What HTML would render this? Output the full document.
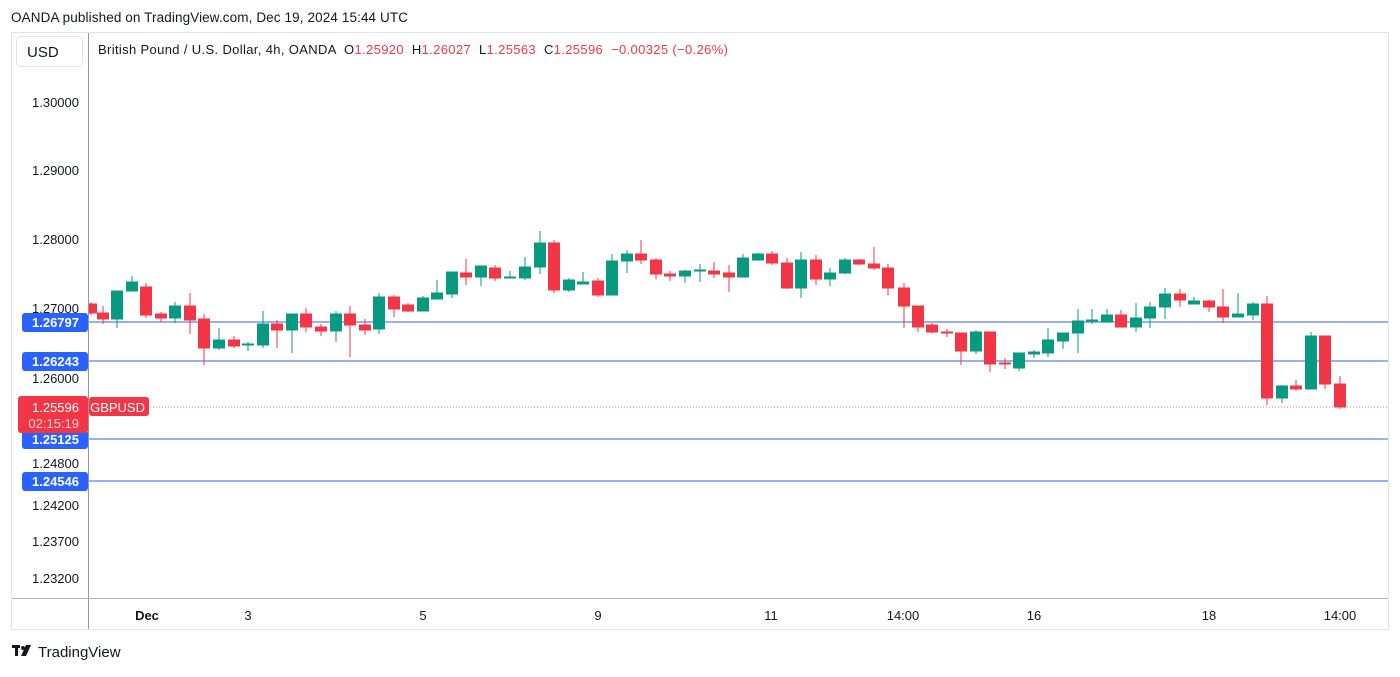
<!DOCTYPE html>
<html><head><meta charset="utf-8"><style>
body{margin:0;background:#fff;width:1400px;height:672px;overflow:hidden;font-family:"Liberation Sans","DejaVu Sans",sans-serif}
</style></head><body>
<svg width="1400" height="672" xmlns="http://www.w3.org/2000/svg" font-family="Liberation Sans, DejaVu Sans, sans-serif">
<rect width="1400" height="672" fill="#fff"/>
<text x="11" y="22" font-size="13.5" fill="#131722" textLength="397" lengthAdjust="spacing">OANDA published on TradingView.com, Dec 19, 2024 15:44 UTC</text>
<rect x="11.5" y="32.5" width="1377" height="597" fill="#fff" stroke="#e0e3eb"/>
<line x1="88.5" y1="33" x2="88.5" y2="629" stroke="#9598a1"/>
<line x1="12" y1="598.5" x2="1388" y2="598.5" stroke="#b2b5be"/>
<rect x="16.5" y="36.5" width="66" height="30" rx="4" fill="#fff" stroke="#e0e3eb"/>
<text x="27" y="57" font-size="15" fill="#131722">USD</text>
<text x="98" y="54" font-size="13" fill="#131722" style="white-space:pre" xml:space="preserve" textLength="630" lengthAdjust="spacing">British Pound / U.S. Dollar, 4h, OANDA  O<tspan fill="#f23645">1.25920</tspan>  H<tspan fill="#f23645">1.26027</tspan>  L<tspan fill="#f23645">1.25563</tspan>  C<tspan fill="#f23645">1.25596</tspan>  <tspan fill="#f23645">−0.00325 (−0.26%)</tspan></text>
<g font-size="13" fill="#131722" text-anchor="end">
<text x="79" y="107">1.30000</text><text x="79" y="175">1.29000</text><text x="79" y="244">1.28000</text><text x="79" y="313">1.27000</text><text x="79" y="383">1.26000</text><text x="79" y="468">1.24800</text><text x="79" y="510">1.24200</text><text x="79" y="546">1.23700</text><text x="79" y="583">1.23200</text>
</g>
<g stroke="#5b7ff0" stroke-width="1.3">
<line x1="89" y1="322" x2="1388" y2="322"/><line x1="89" y1="361" x2="1388" y2="361"/><line x1="89" y1="439" x2="1388" y2="439"/><line x1="89" y1="481" x2="1388" y2="481"/>
</g>
<line x1="150" y1="407" x2="1388" y2="407" stroke="#f23645" stroke-dasharray="1,2" opacity="0.7"/>
<svg x="89" y="33" width="1299" height="565" viewBox="89 33 1299 565">
<g stroke="#089981" fill="#089981">
<line x1="117" y1="291" x2="117" y2="328"/><rect x="111.5" y="291" width="11" height="28"/>
<line x1="132" y1="276" x2="132" y2="291"/><rect x="126.5" y="282" width="11" height="9"/>
<line x1="175" y1="302" x2="175" y2="323"/><rect x="169.5" y="306" width="11" height="12"/>
<line x1="219" y1="328" x2="219" y2="350"/><rect x="213.5" y="340" width="11" height="8"/>
<line x1="248" y1="342" x2="248" y2="351"/><rect x="242.5" y="344" width="11" height="1"/>
<line x1="263" y1="311" x2="263" y2="348"/><rect x="257.5" y="324" width="11" height="21"/>
<line x1="292" y1="314" x2="292" y2="353"/><rect x="286.5" y="314" width="11" height="16"/>
<line x1="336" y1="311" x2="336" y2="342"/><rect x="330.5" y="314" width="11" height="17"/>
<line x1="379" y1="293" x2="379" y2="334"/><rect x="373.5" y="297" width="11" height="32"/>
<line x1="423" y1="296" x2="423" y2="311"/><rect x="417.5" y="298" width="11" height="13"/>
<line x1="437" y1="280" x2="437" y2="299"/><rect x="431.5" y="293" width="11" height="6"/>
<line x1="452" y1="272" x2="452" y2="298"/><rect x="446.5" y="272" width="11" height="22"/>
<line x1="481" y1="266" x2="481" y2="286"/><rect x="475.5" y="266" width="11" height="11"/>
<line x1="510" y1="271" x2="510" y2="278"/><rect x="504.5" y="277" width="11" height="1"/>
<line x1="525" y1="257" x2="525" y2="280"/><rect x="519.5" y="267" width="11" height="11"/>
<line x1="540" y1="231" x2="540" y2="274"/><rect x="534.5" y="243" width="11" height="24"/>
<line x1="569" y1="278" x2="569" y2="292"/><rect x="563.5" y="280" width="11" height="10"/>
<line x1="583" y1="272" x2="583" y2="284"/><rect x="577.5" y="282" width="11" height="2"/>
<line x1="612" y1="254" x2="612" y2="295"/><rect x="606.5" y="261" width="11" height="34"/>
<line x1="627" y1="250" x2="627" y2="273"/><rect x="621.5" y="254" width="11" height="7"/>
<line x1="685" y1="270" x2="685" y2="283"/><rect x="679.5" y="271" width="11" height="5"/>
<line x1="700" y1="264" x2="700" y2="282"/><rect x="694.5" y="270" width="11" height="1"/>
<line x1="743" y1="254" x2="743" y2="277"/><rect x="737.5" y="258" width="11" height="19"/>
<line x1="758" y1="253" x2="758" y2="261"/><rect x="752.5" y="254" width="11" height="6"/>
<line x1="801" y1="252" x2="801" y2="298"/><rect x="795.5" y="260" width="11" height="28"/>
<line x1="830" y1="268" x2="830" y2="286"/><rect x="824.5" y="273" width="11" height="6"/>
<line x1="845" y1="258" x2="845" y2="274"/><rect x="839.5" y="260" width="11" height="13"/>
<line x1="976" y1="330" x2="976" y2="354"/><rect x="970.5" y="332" width="11" height="19"/>
<line x1="1019" y1="353" x2="1019" y2="371"/><rect x="1013.5" y="353" width="11" height="15"/>
<line x1="1034" y1="350" x2="1034" y2="358"/><rect x="1028.5" y="352" width="11" height="2"/>
<line x1="1048" y1="328" x2="1048" y2="357"/><rect x="1042.5" y="340" width="11" height="13"/>
<line x1="1063" y1="333" x2="1063" y2="349"/><rect x="1057.5" y="333" width="11" height="8"/>
<line x1="1078" y1="309" x2="1078" y2="353"/><rect x="1072.5" y="321" width="11" height="12"/>
<line x1="1092" y1="309" x2="1092" y2="324"/><rect x="1086.5" y="320" width="11" height="1"/>
<line x1="1107" y1="309" x2="1107" y2="322"/><rect x="1101.5" y="315" width="11" height="7"/>
<line x1="1136" y1="303" x2="1136" y2="332"/><rect x="1130.5" y="318" width="11" height="9"/>
<line x1="1150" y1="302" x2="1150" y2="328"/><rect x="1144.5" y="307" width="11" height="11"/>
<line x1="1165" y1="288" x2="1165" y2="319"/><rect x="1159.5" y="294" width="11" height="13"/>
<line x1="1194" y1="297" x2="1194" y2="304"/><rect x="1188.5" y="301" width="11" height="3"/>
<line x1="1238" y1="293" x2="1238" y2="317"/><rect x="1232.5" y="314" width="11" height="3"/>
<line x1="1253" y1="302" x2="1253" y2="320"/><rect x="1247.5" y="304" width="11" height="11"/>
<line x1="1282" y1="385" x2="1282" y2="403"/><rect x="1276.5" y="386" width="11" height="12"/>
<line x1="1311" y1="332" x2="1311" y2="389"/><rect x="1305.5" y="336" width="11" height="53"/>
</g>
<g stroke="#f23645" fill="#f23645">
<line x1="91" y1="302" x2="91" y2="315"/><rect x="85.5" y="304" width="11" height="9"/>
<line x1="103" y1="306" x2="103" y2="324"/><rect x="97.5" y="313" width="11" height="6"/>
<line x1="146" y1="283" x2="146" y2="318"/><rect x="140.5" y="287" width="11" height="28"/>
<line x1="161" y1="312" x2="161" y2="322"/><rect x="155.5" y="314" width="11" height="4"/>
<line x1="190" y1="293" x2="190" y2="334"/><rect x="184.5" y="306" width="11" height="14"/>
<line x1="204" y1="314" x2="204" y2="365"/><rect x="198.5" y="319" width="11" height="29"/>
<line x1="234" y1="336" x2="234" y2="348"/><rect x="228.5" y="340" width="11" height="6"/>
<line x1="277" y1="320" x2="277" y2="348"/><rect x="271.5" y="324" width="11" height="6"/>
<line x1="306" y1="308" x2="306" y2="332"/><rect x="300.5" y="314" width="11" height="13"/>
<line x1="321" y1="324" x2="321" y2="336"/><rect x="315.5" y="327" width="11" height="4"/>
<line x1="350" y1="306" x2="350" y2="357"/><rect x="344.5" y="314" width="11" height="11"/>
<line x1="365" y1="319" x2="365" y2="335"/><rect x="359.5" y="325" width="11" height="5"/>
<line x1="394" y1="295" x2="394" y2="317"/><rect x="388.5" y="297" width="11" height="12"/>
<line x1="408" y1="303" x2="408" y2="312"/><rect x="402.5" y="305" width="11" height="6"/>
<line x1="466" y1="259" x2="466" y2="285"/><rect x="460.5" y="273" width="11" height="4"/>
<line x1="495" y1="265" x2="495" y2="281"/><rect x="489.5" y="268" width="11" height="10"/>
<line x1="554" y1="240" x2="554" y2="293"/><rect x="548.5" y="243" width="11" height="47"/>
<line x1="598" y1="278" x2="598" y2="297"/><rect x="592.5" y="281" width="11" height="14"/>
<line x1="641" y1="240" x2="641" y2="264"/><rect x="635.5" y="254" width="11" height="6"/>
<line x1="656" y1="258" x2="656" y2="279"/><rect x="650.5" y="260" width="11" height="14"/>
<line x1="670" y1="271" x2="670" y2="281"/><rect x="664.5" y="274" width="11" height="2"/>
<line x1="714" y1="262" x2="714" y2="278"/><rect x="708.5" y="271" width="11" height="3"/>
<line x1="729" y1="265" x2="729" y2="292"/><rect x="723.5" y="273" width="11" height="4"/>
<line x1="772" y1="251" x2="772" y2="265"/><rect x="766.5" y="254" width="11" height="9"/>
<line x1="787" y1="258" x2="787" y2="289"/><rect x="781.5" y="263" width="11" height="25"/>
<line x1="816" y1="255" x2="816" y2="285"/><rect x="810.5" y="260" width="11" height="19"/>
<line x1="859" y1="259" x2="859" y2="265"/><rect x="853.5" y="260" width="11" height="4"/>
<line x1="874" y1="247" x2="874" y2="270"/><rect x="868.5" y="264" width="11" height="4"/>
<line x1="888" y1="264" x2="888" y2="295"/><rect x="882.5" y="268" width="11" height="20"/>
<line x1="904" y1="283" x2="904" y2="328"/><rect x="898.5" y="288" width="11" height="18"/>
<line x1="918" y1="306" x2="918" y2="332"/><rect x="912.5" y="306" width="11" height="21"/>
<line x1="932" y1="323" x2="932" y2="333"/><rect x="926.5" y="325" width="11" height="7"/>
<line x1="947" y1="329" x2="947" y2="337"/><rect x="941.5" y="332" width="11" height="1"/>
<line x1="961" y1="333" x2="961" y2="365"/><rect x="955.5" y="333" width="11" height="18"/>
<line x1="990" y1="332" x2="990" y2="372"/><rect x="984.5" y="332" width="11" height="32"/>
<line x1="1005" y1="358" x2="1005" y2="369"/><rect x="999.5" y="363" width="11" height="1"/>
<line x1="1121" y1="310" x2="1121" y2="327"/><rect x="1115.5" y="315" width="11" height="12"/>
<line x1="1180" y1="289" x2="1180" y2="307"/><rect x="1174.5" y="294" width="11" height="6"/>
<line x1="1209" y1="300" x2="1209" y2="312"/><rect x="1203.5" y="301" width="11" height="6"/>
<line x1="1223" y1="289" x2="1223" y2="323"/><rect x="1217.5" y="307" width="11" height="10"/>
<line x1="1267" y1="296" x2="1267" y2="405"/><rect x="1261.5" y="304" width="11" height="94"/>
<line x1="1296" y1="380" x2="1296" y2="391"/><rect x="1290.5" y="386" width="11" height="3"/>
<line x1="1325" y1="336" x2="1325" y2="389"/><rect x="1319.5" y="336" width="11" height="48"/>
<line x1="1340" y1="376" x2="1340" y2="409"/><rect x="1334.5" y="384" width="11" height="23"/>
</g>
</svg>
<g font-size="13" font-weight="bold" fill="#fff" text-anchor="end">
<rect x="22" y="313" width="66" height="19" rx="3" fill="#2962ff"/><text x="79" y="327">1.26797</text>
<rect x="22" y="352" width="66" height="19" rx="3" fill="#2962ff"/><text x="79" y="366">1.26243</text>
<rect x="22" y="430" width="66" height="19" rx="3" fill="#2962ff"/><text x="79" y="444">1.25125</text>
<rect x="22" y="472" width="66" height="19" rx="3" fill="#2962ff"/><text x="79" y="486">1.24546</text>
<rect x="18" y="396" width="70" height="37" rx="3" fill="#f23645"/>
<text x="79" y="412" font-weight="normal">1.25596</text>
<text x="79" y="428" font-weight="normal" fill="#ffd0d4">02:15:19</text>
<rect x="89" y="397" width="60" height="19" rx="3" fill="#f23645"/>
<text x="145" y="412" font-weight="normal">GBPUSD</text>
</g>
<g font-size="13" fill="#131722" text-anchor="middle">
<text x="147" y="620" font-weight="bold">Dec</text><text x="248" y="620">3</text><text x="423" y="620">5</text><text x="598" y="620">9</text><text x="771" y="620">11</text><text x="903" y="620">14:00</text><text x="1034" y="620">16</text><text x="1209" y="620">18</text><text x="1340" y="620">14:00</text>
</g>
<g fill="#131722">
<rect x="12" y="645" width="8" height="3"/><rect x="15" y="645" width="3" height="11"/>
<circle cx="23" cy="648" r="2"/><polygon points="26,645 31,645 26,656 21,656"/>
</g>
<text x="38" y="657" font-size="15" fill="#131722">TradingView</text>
</svg>
</body></html>
